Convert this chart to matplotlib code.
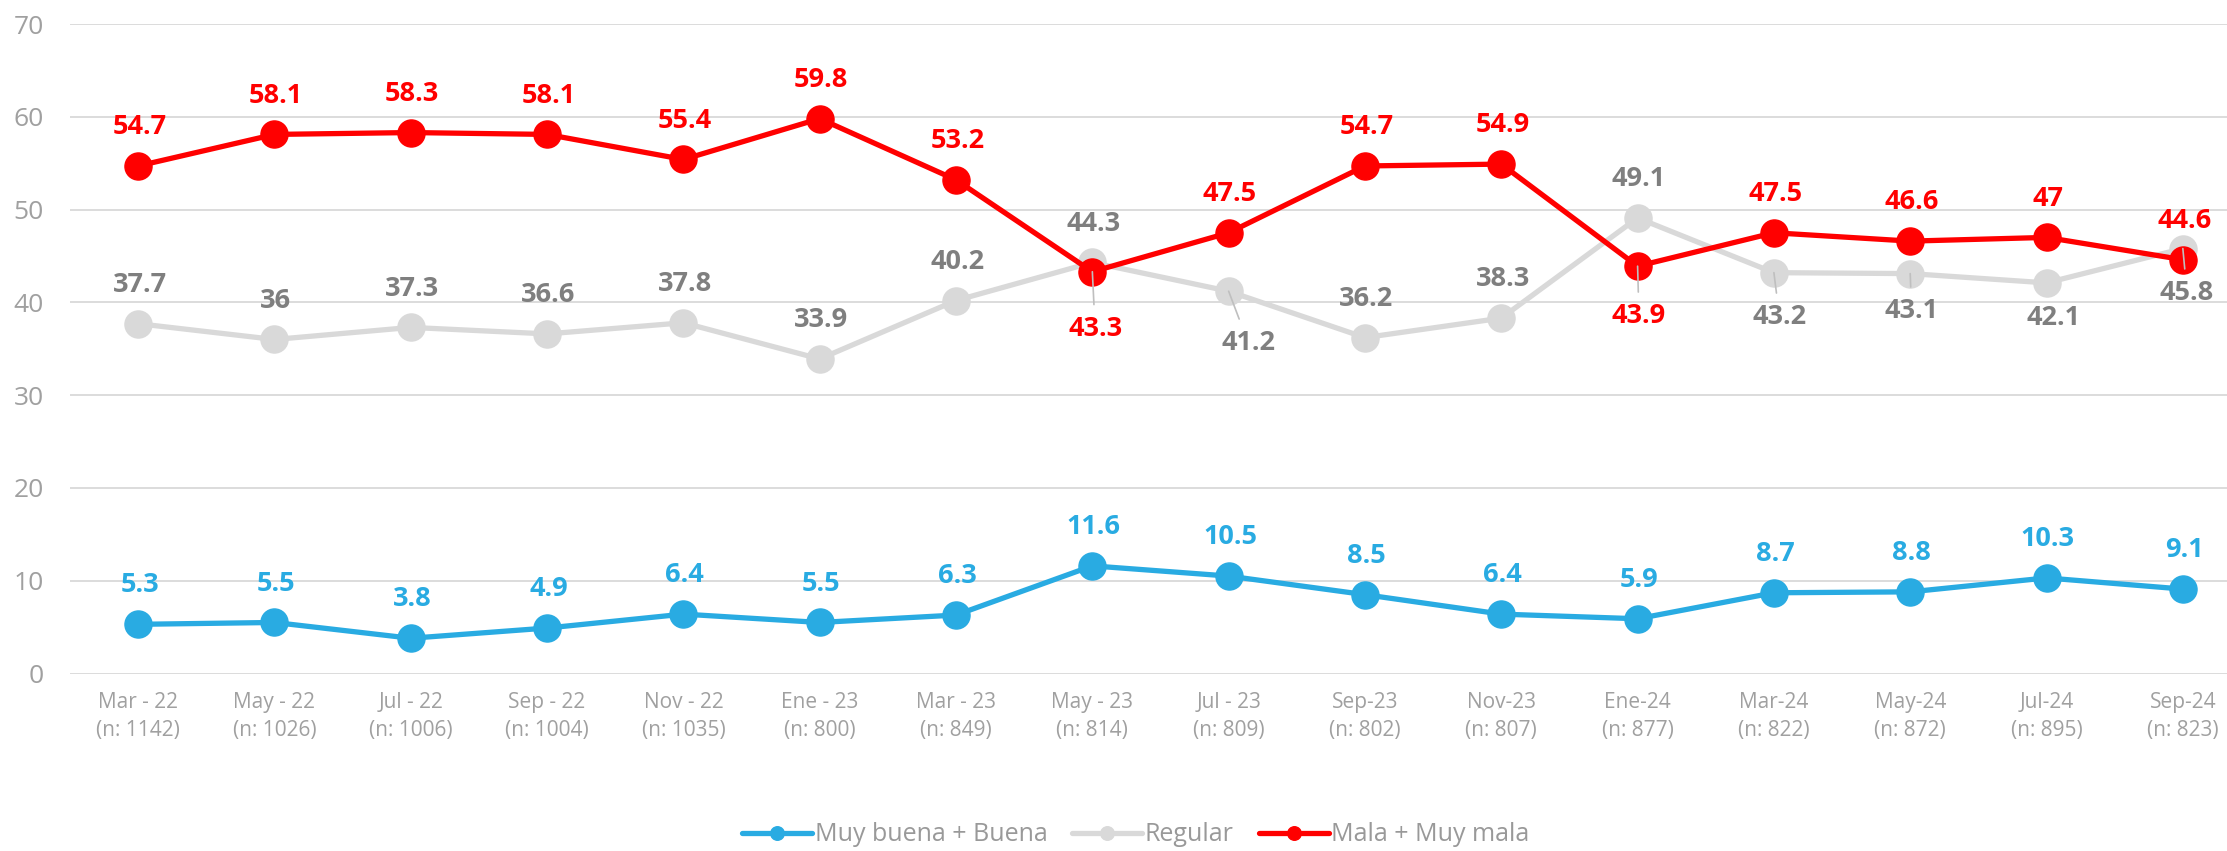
import matplotlib
matplotlib.use("Agg")
import matplotlib.pyplot as plt
from matplotlib import font_manager

# survey waves and sample sizes
waves = ["Mar - 22", "May - 22", "Jul - 22", "Sep - 22", "Nov - 22", "Ene - 23",
         "Mar - 23", "May - 23", "Jul - 23", "Sep-23", "Nov-23", "Ene-24",
         "Mar-24", "May-24", "Jul-24", "Sep-24"]
n_sizes = [1142, 1026, 1006, 1004, 1035, 800, 849, 814, 809, 802, 807, 877,
           822, 872, 895, 823]

buena = [5.3, 5.5, 3.8, 4.9, 6.4, 5.5, 6.3, 11.6, 10.5, 8.5, 6.4, 5.9,
         8.7, 8.8, 10.3, 9.1]
regular = [37.7, 36, 37.3, 36.6, 37.8, 33.9, 40.2, 44.3, 41.2, 36.2, 38.3, 49.1,
           43.2, 43.1, 42.1, 45.8]
mala = [54.7, 58.1, 58.3, 58.1, 55.4, 59.8, 53.2, 43.3, 47.5, 54.7, 54.9, 43.9,
        47.5, 46.6, 47, 44.6]

BLUE = "#29ABE2"
GRAY_LINE = "#D9D9D9"
GRAY_TXT = "#7F7F7F"
RED = "#FF0000"

available = {f.name for f in font_manager.fontManager.ttflist}
FONT = "Liberation Sans Narrow" if "Liberation Sans Narrow" in available else "Open Sans"
plt.rcParams["font.family"] = [FONT, "DejaVu Sans"]


def fmt(v):
    return f"{v:g}"


fig = plt.figure(figsize=(22.27, 8.51), dpi=100)
ax = fig.add_axes([70 / 2227, 177.5 / 851, 2181 / 2227, 649.5 / 851])

x = list(range(len(waves)))
series = [
    ("Muy buena + Buena", buena, BLUE, BLUE),
    ("Regular", regular, GRAY_LINE, GRAY_TXT),
    ("Mala + Muy mala", mala, RED, RED),
]

# label placement: default above; these go below (dx, dy in points, leader line?)
below = {
    ("Mala + Muy mala", 7): (2, -41, True),
    ("Regular", 8): (14, -37, True),
    ("Mala + Muy mala", 11): (1, -36, True),
    ("Regular", 12): (4, -32, True),
    ("Regular", 13): (1, -27, True),
    ("Regular", 14): (5, -25, False),
    ("Regular", 15): (3, -32, True),
}

for name, vals, lc, tc in series:
    ax.plot(x, vals, color=lc, lw=3.8, marker="o", ms=19.5, label=name,
            solid_capstyle="round")
    for i, v in enumerate(vals):
        dx, dy, lead = below.get((name, i), (1, 28, False))
        kw = {}
        if lead:
            kw["arrowprops"] = dict(arrowstyle="-", color="#BFBFBF", lw=1.2,
                                    shrinkA=6, shrinkB=0)
        ax.annotate(fmt(v), (i, v), xytext=(dx, dy), textcoords="offset points",
                    ha="center", va="center", fontsize=19.5, fontweight="bold",
                    color=tc, **kw)

ax.set_xlim(-0.5, len(waves) - 0.5)
ax.set_ylim(0, 70)
ax.set_yticks(range(0, 71, 10))
ax.set_xticks(x)
ax.set_xticklabels([f"{w}\n(n: {n})" for w, n in zip(waves, n_sizes)],
                   linespacing=1.45)
ax.tick_params(axis="x", length=0, pad=13, labelsize=15, labelcolor="#A0A0A0")
ax.tick_params(axis="y", length=0, pad=19, labelsize=19, labelcolor="#A0A0A0")
ax.grid(axis="y", color="#D9D9D9", lw=1.3)
ax.set_axisbelow(True)
for s in ax.spines.values():
    s.set_visible(False)

leg = fig.legend(loc="center", bbox_to_anchor=(0.51, 0.019), ncol=3,
                 frameon=False, fontsize=18, handlelength=2.8, handletextpad=0.1,
                 columnspacing=1.0, markerscale=0.5)
for t in leg.get_texts():
    t.set_color("#999999")

fig.savefig("out.png", dpi=100)
